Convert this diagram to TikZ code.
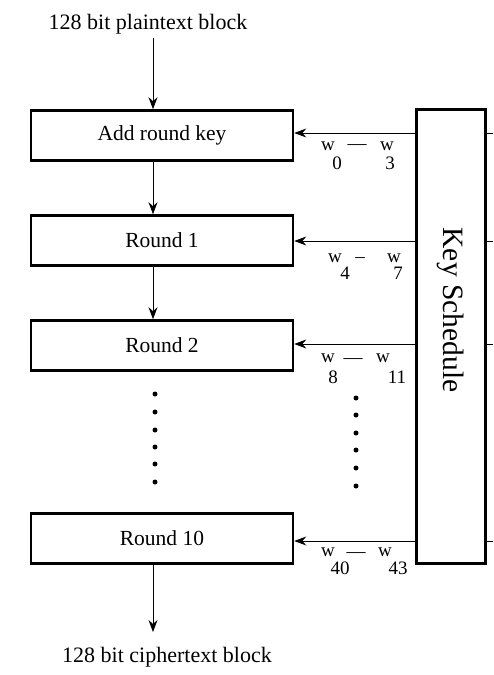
\documentclass[tikz,border=0pt]{standalone}
\usepackage{fontspec}
\setmainfont{Liberation Serif}
\usetikzlibrary{arrows.meta}
\begin{document}
\begin{tikzpicture}[x=1pt,y=-1pt,
  rbox/.style={draw,line width=2.6pt,minimum width=262pt,minimum height=50pt,inner sep=0pt,font=\fontsize{21.5}{24}\selectfont},
  arr/.style={line width=0.8pt,-{Stealth[length=12pt,width=9pt,inset=4pt]}},
  lbl/.style={font=\fontsize{22}{26}\selectfont,inner sep=0pt},
  klbl/.style={font=\fontsize{19}{22}\selectfont,inner sep=0pt},
  dot/.style={circle,fill=black,minimum size=5pt,inner sep=0pt}]
\useasboundingbox (0,0) rectangle (493,675);
\node[lbl] (pt) at (148,24) {128 bit plaintext block};
\node[rbox] (ark) at (162,135.5) {Add round key};
\node[rbox] (r1) at (162,240.5) {Round 1};
\node[rbox] (r2) at (162,345.5) {Round 2};
\node[rbox] (r10) at (162,538.5) {Round 10};
\node[lbl] (ct) at (167,657) {128 bit ciphertext block};
\node[draw,line width=2.6pt,minimum width=69pt,minimum height=454pt,inner sep=0pt] (ks) at (451,336.5) {};
\node[lbl,font=\fontsize{29.5}{34}\selectfont,rotate=-90] (kst) at (451,310) {Key Schedule};
% vertical arrows
\coordinate (ptb) at (153,38);
\draw[arr] (ptb) -- (ark.north -| ptb);
\draw[arr] (ark.south -| ptb) -- (r1.north -| ptb);
\draw[arr] (r1.south -| ptb) -- (r2.north -| ptb);
\coordinate (ctt) at (153,632);
\draw[arr] (r10.south -| ctt) -- (ctt);
% key arrows
\foreach \n/\yy in {ark/133, r1/241, r2/344, r10/541}{
  \coordinate (k\n) at (ks.west |- 0,\yy);
  \draw[arr] (k\n) -- (\n.east |- k\n);
  \coordinate (t\n) at (493,\yy);
  \draw[line width=0.8pt] (ks.east |- t\n) -- (t\n);
}
% labels
\foreach \c/\y/\xa/\xd/\yd/\xb/\xs/\xt/\ys/\sa/\sb/\dd in {
  ark/146/328/357/147/387/337/390/163/0/3/---,
  r1/258/335/360/260/394/345/398/273/4/7/--,
  r2/358/328/353/361/383/333/397/377/8/11/---,
  r10/552/328/356/555/385/340/398/568/40/43/---}{
  \node[klbl] (wa\c) at (\xa,\y) {w};
  \node[klbl] (wd\c) at (\xd,\yd) {\dd};
  \node[klbl] (wb\c) at (\xb,\y) {w};
  \node[klbl] (sa\c) at (\xs,\ys) {\sa};
  \node[klbl] (sb\c) at (\xt,\ys) {\sb};
}
% dots
\foreach \i/\y in {1/394,2/412,3/430,4/447,5/464,6/482}{
  \node[dot] (dl\i) at (155,\y) {};
}
\foreach \i/\y in {1/398,2/415,3/433,4/450,5/468,6/486}{
  \node[dot] (dr\i) at (356,\y) {};
}
\end{tikzpicture}
\end{document}
